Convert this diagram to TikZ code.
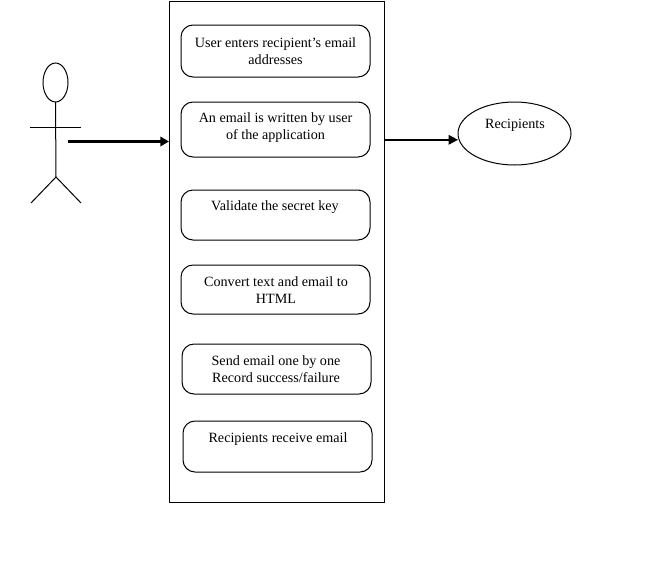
\documentclass[tikz,border=0pt]{standalone}
\usepackage{fontspec}
\setmainfont{Liberation Serif}
\usetikzlibrary{shapes.geometric,arrows.meta}
\tikzset{
  px/.style={x=0.75pt,y=-0.75pt},
  line/.style={draw=black,line width=0.75pt},
  stepbox/.style={line,rounded corners=9pt,minimum width=141.75pt,inner sep=0pt,outer sep=0pt},
  steptext/.style={font=\fontsize{10.6}{12.75}\selectfont,align=center,inner sep=0pt,text=black},
  oval/.style={line,ellipse,inner sep=0pt,outer sep=0pt},
  flowthick/.style={draw=black,line width=2.25pt,-{Triangle[length=6.5pt,width=7pt]},shorten >=0pt},
  flowthin/.style={draw=black,line width=1.5pt,-{Triangle[length=7pt,width=7pt]}},
}
\begin{document}
\begin{tikzpicture}[px]
\useasboundingbox[fill=white] (0,0) rectangle (655,582);
% container
\node[line,rectangle,inner sep=0pt,outer sep=0pt,minimum width=161.25pt,minimum height=375.75pt] (outer) at (276.5,251.5) {};
% steps
\node[stepbox,minimum height=39pt]    (b1) at (275.5,51)   {};
\node[stepbox,minimum height=41.25pt] (b2) at (275.5,129.5){};
\node[stepbox,minimum height=37.5pt]  (b3) at (275.5,215)  {};
\node[stepbox,minimum height=36.75pt] (b4) at (275.5,289.5){};
\node[stepbox,minimum height=37.5pt]  (b5) at (276.5,369)  {};
\node[stepbox,minimum height=38.25pt] (b6) at (277.5,446.5){};
\node[steptext] (t1) at (275.5,51.5)  {User enters recipient’s email\\addresses};
\node[steptext] (t2) at (275.5,127.5) {An email is written by user\\of the application};
\node[steptext] (t3) at (275,207.5)   {Validate the secret key};
\node[steptext] (t4) at (276,290.5)   {Convert text and email to\\HTML};
\node[steptext] (t5) at (276,369.5)   {Send email one by one\\Record success/failure};
\node[steptext] (t6) at (278,439.5)   {Recipients receive email};
% recipients
\node[oval,minimum width=84.75pt,minimum height=47.25pt] (rec) at (514.5,133.5) {};
\node[steptext] (rectext) at (515,125.5) {Recipients};
% actor
\node[oval,minimum width=18.75pt,minimum height=29.25pt] (head) at (55.5,82.5) {};
\coordinate (hip) at (56,177);
\coordinate (armL) at (30,127.3);
\coordinate (armR) at (81,127.3);
\coordinate (legL) at (31,203);
\coordinate (legR) at (81,203);
\draw[line] (head.south) -- (hip);
\draw[line] (armL) -- (armR);
\draw[line] (legL) -- (hip) -- (legR);
% connectors
\coordinate (hand) at (68,141.5);
\coordinate (out) at (384,139.8);
\draw[flowthick] (hand) -- (hand -| outer.west);
\draw[flowthin] (out) -- (out -| rec.west);
\end{tikzpicture}
\end{document}
